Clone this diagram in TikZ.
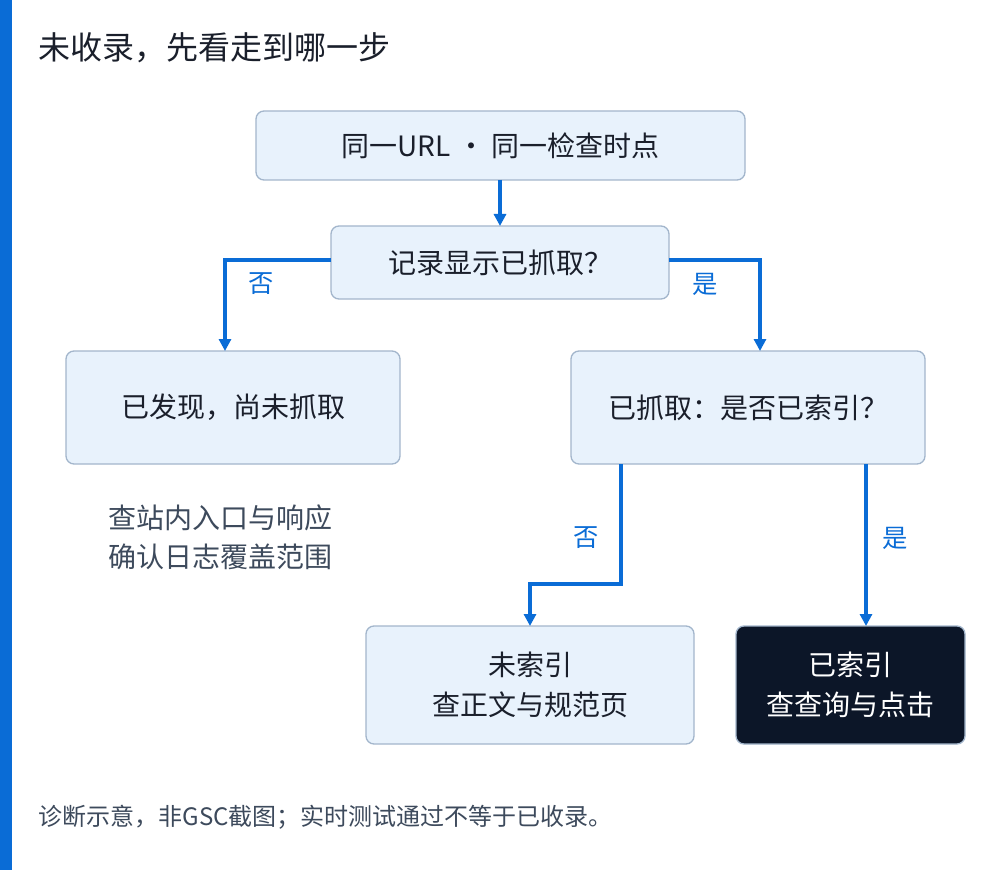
\documentclass[tikz,border=0pt]{standalone}
\usepackage{fontspec}
\setmainfont{Noto Sans CJK SC}
\usetikzlibrary{arrows.meta}
\definecolor{accent}{HTML}{0A6CD6}
\definecolor{boxfill}{HTML}{E8F2FC}
\definecolor{boxline}{HTML}{A3B6CC}
\definecolor{dark}{HTML}{0C1628}
\definecolor{ink}{HTML}{1A1F2B}
\definecolor{gray}{HTML}{3D4A5C}
\begin{document}
\begin{tikzpicture}[x=0.75pt,y=-0.75pt,
  box/.style={draw=boxline,line width=1pt,fill=boxfill,rounded corners=6pt,text=ink,font=\fontsize{21}{27}\selectfont,align=center},
  arr/.style={draw=accent,line width=2.6pt,-{Triangle[length=9pt,width=9pt]}},
  lab/.style={text=accent,font=\fontsize{19}{22}\selectfont}]
\useasboundingbox (0,0) rectangle (1000,870);
\fill[white] (0,0) rectangle (1000,870);
\fill[accent] (0,0) rectangle (12,870);
\node[anchor=west,text=ink,font=\fontsize{24}{28}\selectfont] (title) at (34,48) {未收录，先看走到哪一步};
\path[box] (256,111) rectangle (745,180); \node[text=ink,font=\fontsize{21}{27}\selectfont] (t) at (500.5,145.5) {同一URL · 同一检查时点};
\coordinate (tB) at (500,180);
\path[box] (331,226) rectangle (669,299); \node[text=ink,font=\fontsize{21}{27}\selectfont] (d) at (500,262.5) {记录显示已抓取？};
\coordinate (dT) at (500,226); \coordinate (dL) at (331,260); \coordinate (dR) at (669,260);
\path[box] (66,351) rectangle (400,464); \node[text=ink,font=\fontsize{21}{27}\selectfont] (l) at (233,407.5) {已发现，尚未抓取};
\coordinate (lT) at (225,351);
\path[box] (571,351) rectangle (925,464); \node[text=ink,font=\fontsize{21}{27}\selectfont] (r) at (748,407.5) {已抓取：是否已索引？};
\coordinate (rT) at (760,351); \coordinate (rB1) at (621,464); \coordinate (rB2) at (866,464);
\path[box] (366,626) rectangle (694,744); \node[text=ink,font=\fontsize{21}{30}\selectfont,align=center] (bl) at (530,685) {未索引\\查正文与规范页};
\coordinate (blT) at (530,626);
\path[draw=boxline,line width=1pt,fill=dark,rounded corners=6pt] (736,626) rectangle (965,744);
\node[text=white,font=\fontsize{21}{30}\selectfont,align=center] (br) at (850.5,685) {已索引\\查查询与点击};
\coordinate (brT) at (866,626);
\node[anchor=west,text=gray,font=\fontsize{21}{29}\selectfont,align=left] (note) at (104,537) {查站内入口与响应\\确认日志覆盖范围};
\node[anchor=west,text=gray,font=\fontsize{18}{22}\selectfont] (foot) at (34,817) {诊断示意，非GSC截图；实时测试通过不等于已收录。};
\draw[arr] (tB) -- (dT);
\draw[arr] (dL) -- (225,260) -- (lT);
\draw[arr] (dR) -- (760,260) -- (rT);
\draw[arr] (rB1) -- (621,584) -- (530,584) -- (blT);
\draw[arr] (rB2) -- (brT);
\node[lab] (n1) at (261,284) {否};
\node[lab] (y1) at (705,284) {是};
\node[lab] (n2) at (586,538) {否};
\node[lab] (y2) at (895,538) {是};
\end{tikzpicture}
\end{document}
